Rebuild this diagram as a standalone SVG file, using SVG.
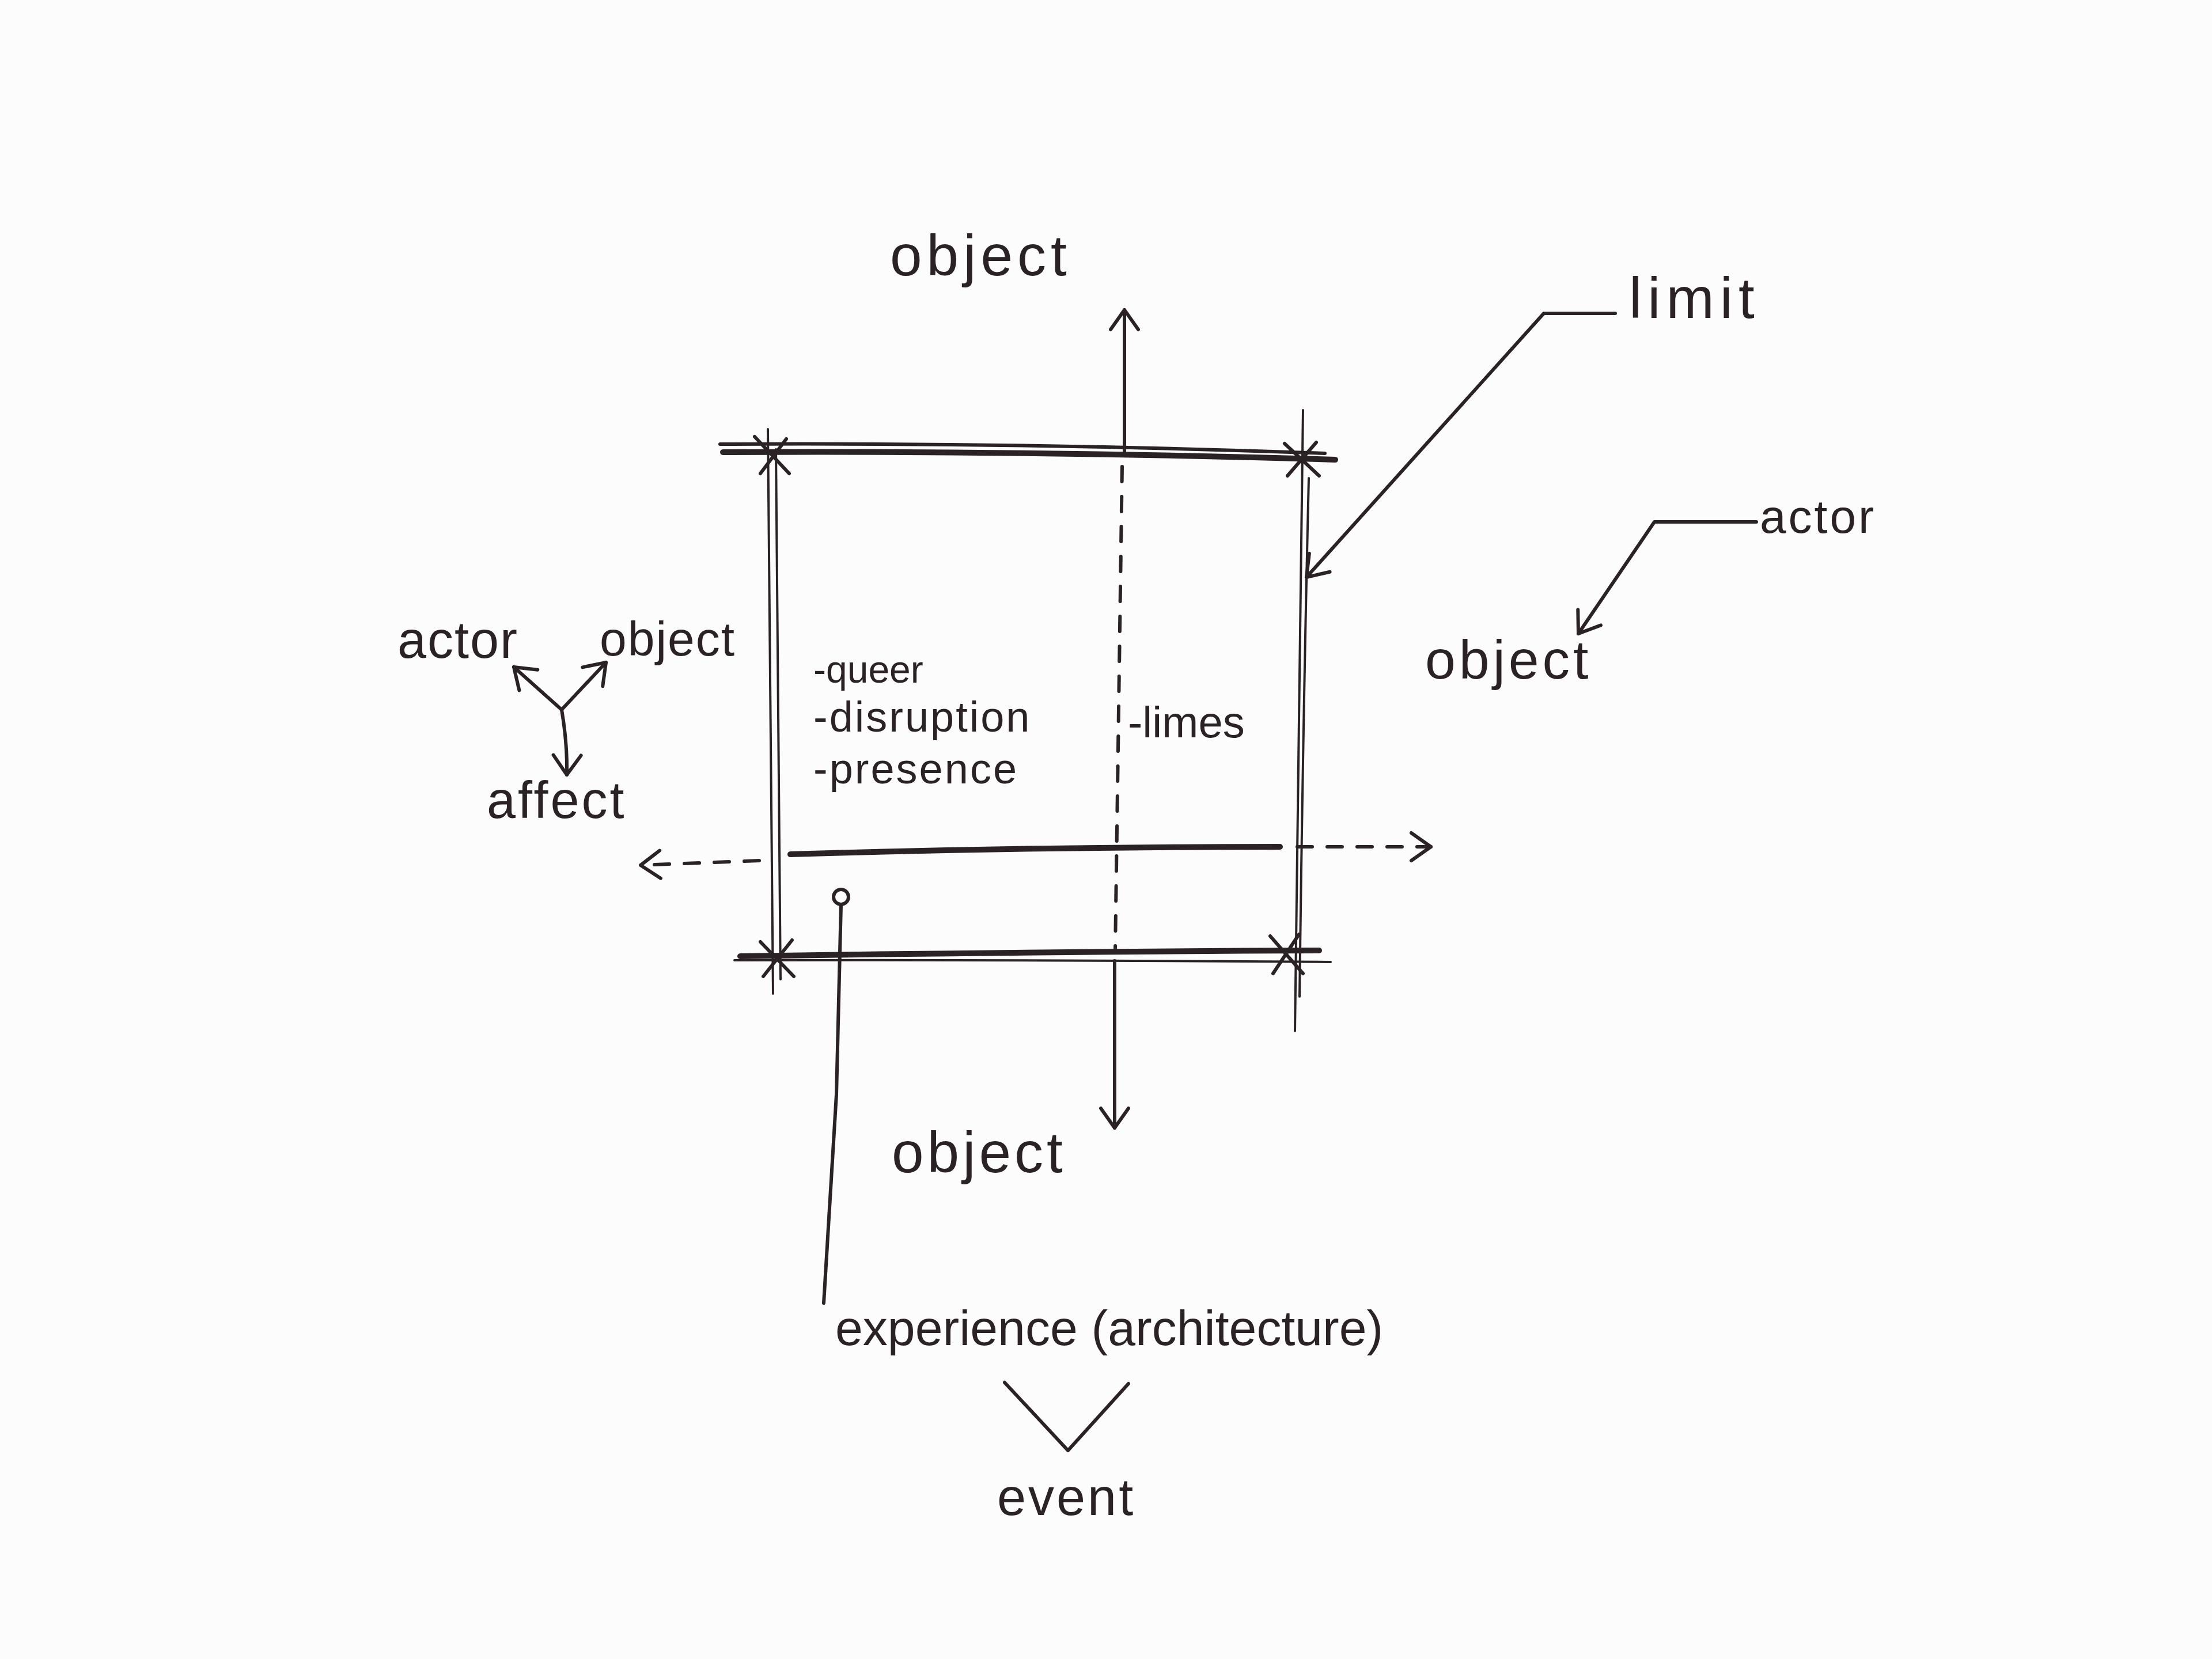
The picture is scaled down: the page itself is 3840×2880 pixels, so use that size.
<svg xmlns="http://www.w3.org/2000/svg" width="3840" height="2880" viewBox="0 0 3840 2880">
<style>
.ink{stroke:#2b2226;fill:none;stroke-linecap:round;stroke-linejoin:round}
.thick{stroke-width:10}
.mid{stroke-width:6}
.thin{stroke-width:4}
.dash{stroke-dasharray:26 26}
.lbl{font-family:"Liberation Sans","DejaVu Sans",sans-serif;fill:#2b2226}
</style>
<defs>
<marker id="head" viewBox="-40 -30 50 60" markerWidth="50" markerHeight="60" refX="0" refY="0" orient="auto" markerUnits="userSpaceOnUse">
<path d="M-34,-24 L0,0 L-34,24" fill="none" stroke="#2b2226" stroke-width="6" stroke-linecap="round" stroke-linejoin="round"/>
</marker>
</defs>
<rect width="3840" height="2880" fill="#fcfcfc"/>
<g id="frame">
<path class="ink mid" d="M1250,771 Q1780,768 2300,787"/>
<path class="ink thick" d="M1255,785 Q1780,782 2318,798"/>
<path class="ink thin" d="M1333,745 Q1338,1240 1342,1725"/>
<path class="ink thin" d="M1347,780 Q1351,1240 1355,1700"/>
<path class="ink thin" d="M2262,712 Q2256,1250 2248,1790"/>
<path class="ink thin" d="M2272,830 Q2262,1250 2256,1730"/>
<path class="ink thin" d="M1275,1667 Q1800,1666 2310,1670"/>
<path class="ink thick" d="M1285,1660 Q1800,1652 2290,1650"/>
<path class="ink mid" d="M1310,758 L1370,822 M1320,822 L1365,762 M2230,770 L2290,826 M2235,826 L2285,768 M1320,1635 L1378,1695 M1325,1695 L1375,1632 M2205,1625 L2262,1690 M2210,1690 L2255,1622"/>
<path class="ink thick" d="M1372,1483 Q1800,1470 2222,1470"/>
</g>
<g id="connectors">
<line class="ink mid" x1="1952" y1="784" x2="1952" y2="538" marker-end="url(#head)"/>
<line class="ink mid dash" x1="1948" y1="810" x2="1936" y2="1650"/>
<line class="ink mid" x1="1935" y1="1668" x2="1935" y2="1958" marker-end="url(#head)"/>
<line class="ink mid dash" x1="1318" y1="1494" x2="1112" y2="1502" marker-end="url(#head)"/>
<line class="ink mid dash" x1="2252" y1="1470" x2="2484" y2="1470" marker-end="url(#head)"/>
<polyline class="ink mid" points="2804,544 2680,544 2268,1002" marker-end="url(#head)"/>
<polyline class="ink mid" points="3049,906 2872,906 2740,1100" marker-end="url(#head)"/>
<line class="ink mid" x1="975" y1="1232" x2="892" y2="1158" marker-end="url(#head)"/>
<line class="ink mid" x1="975" y1="1232" x2="1052" y2="1150" marker-end="url(#head)"/>
<path class="ink mid" d="M975,1232 Q985,1290 984,1345" marker-end="url(#head)"/>
<circle class="ink mid" cx="1460" cy="1557" r="13"/>
<path class="ink mid" d="M1460,1571 L1452,1900 L1430,2262"/>
<polyline class="ink mid" points="1744,2400 1854,2518 1959,2402"/>
</g>
<g id="label-object-top"><text class="lbl" x="1545" y="478" font-size="100" letter-spacing="8">object</text></g>
<g id="label-limit"><text class="lbl" x="2828" y="552" font-size="100" letter-spacing="10">limit</text></g>
<g id="label-actor-right"><text class="lbl" x="3055" y="925" font-size="82" letter-spacing="4">actor</text></g>
<g id="label-object-right"><text class="lbl" x="2474" y="1178" font-size="95" letter-spacing="6">object</text></g>
<g id="label-actor-left"><text class="lbl" x="690" y="1142" font-size="90" letter-spacing="2">actor</text></g>
<g id="label-object-left"><text class="lbl" x="1041" y="1138" font-size="84" letter-spacing="2">object</text></g>
<g id="label-affect"><text class="lbl" x="845" y="1420" font-size="90" letter-spacing="4">affect</text></g>
<g id="label-queer"><text class="lbl" x="1412" y="1185" font-size="66">-queer</text></g>
<g id="label-disruption"><text class="lbl" x="1412" y="1270" font-size="74" letter-spacing="3">-disruption</text></g>
<g id="label-presence"><text class="lbl" x="1412" y="1360" font-size="74" letter-spacing="3">-presence</text></g>
<g id="label-limes"><text class="lbl" x="1958" y="1280" font-size="76">-limes</text></g>
<g id="label-object-bottom"><text class="lbl" x="1548" y="2035" font-size="100" letter-spacing="6">object</text></g>
<g id="label-experience"><text class="lbl" x="1450" y="2335" font-size="86">experience (architecture)</text></g>
<g id="label-event"><text class="lbl" x="1731" y="2630" font-size="90" letter-spacing="4">event</text></g>
</svg>
